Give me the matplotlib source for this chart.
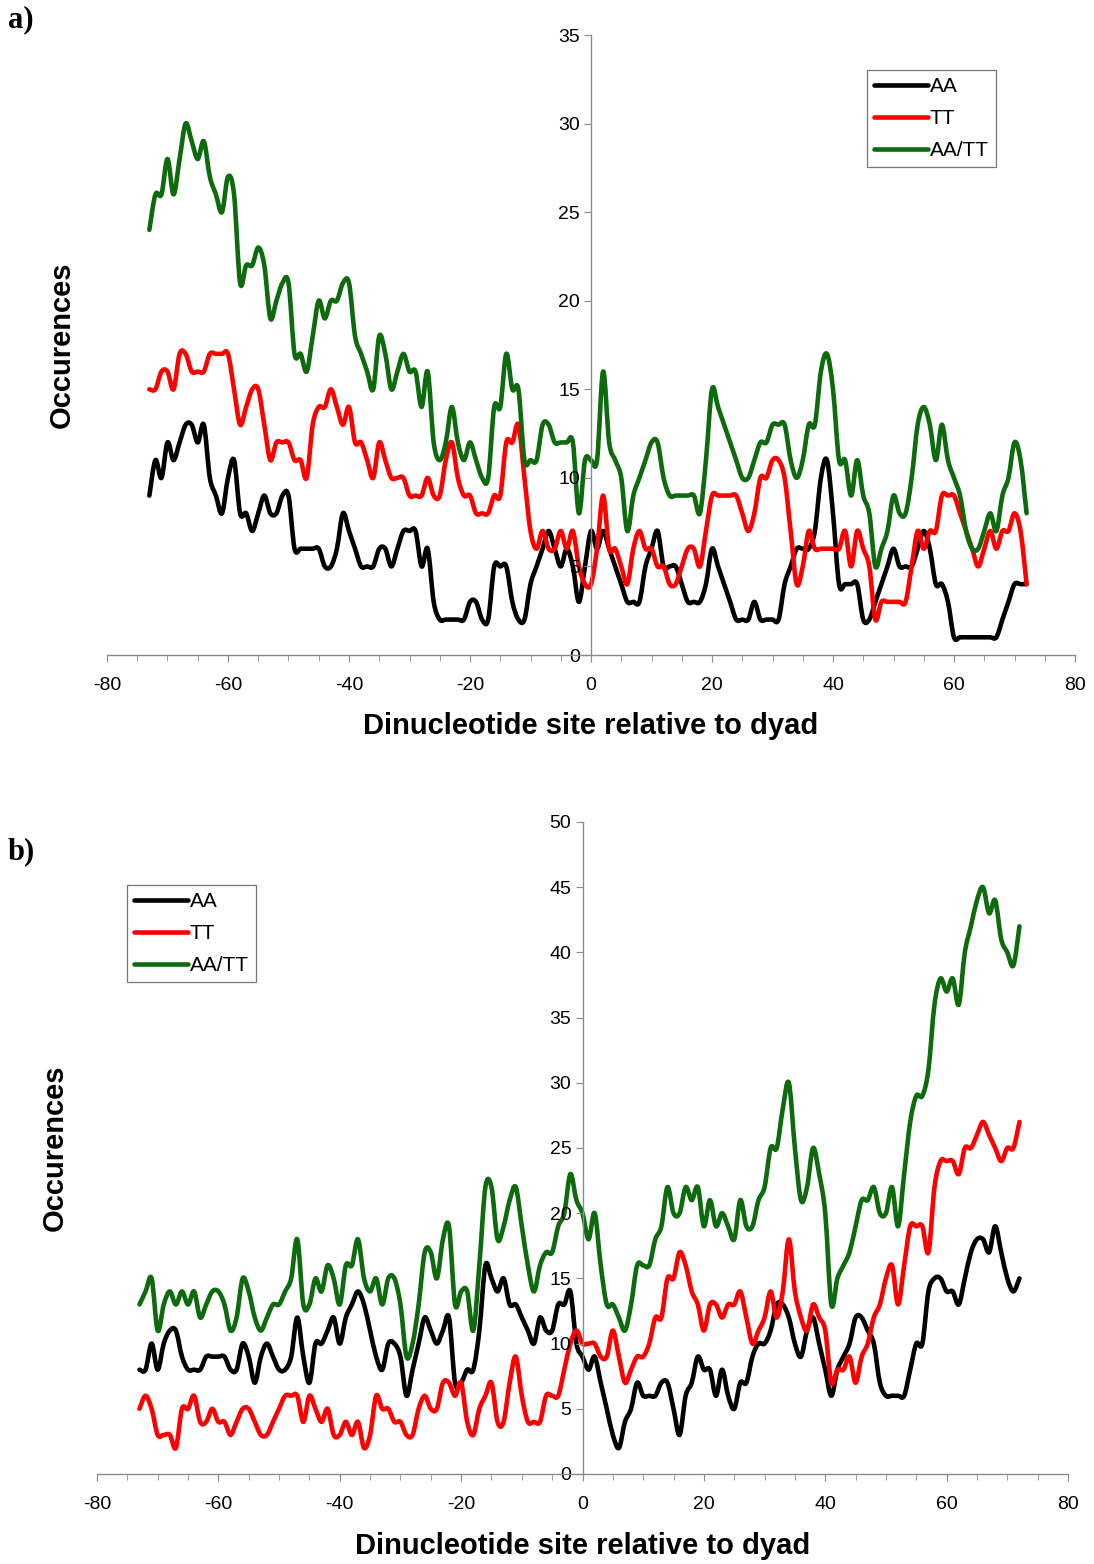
import numpy as np
import matplotlib.pyplot as plt
from matplotlib.path import Path
from matplotlib.patches import PathPatch
from matplotlib.lines import Line2D

plt.rcParams['font.family'] = ['Liberation Sans', 'DejaVu Sans']
plt.rcParams['axes.unicode_minus'] = False

x = list(range(-73, 73))

# panel a
aa_a = [9, 11, 10, 12, 11, 12, 13, 13, 12, 13, 10, 9, 8, 10, 11, 8, 8, 7, 8, 9, 8, 8, 9, 9, 6, 6, 6, 6, 6, 5, 5, 6, 8, 7, 6, 5, 5,
        5, 6, 6, 5, 6, 7, 7, 7, 5, 6, 3, 2, 2, 2, 2, 2, 3, 3, 2, 2, 5, 5, 5, 3, 2, 2, 4, 5, 6, 7, 6, 5, 6, 5, 3, 5, 7,
        6, 7, 6, 5, 4, 3, 3, 3, 5, 6, 7, 5, 5, 5, 4, 3, 3, 3, 4, 6, 5, 4, 3, 2, 2, 2, 3, 2, 2, 2, 2, 4, 5, 6, 6, 6, 7, 10, 11,
        8, 4, 4, 4, 4, 2, 2, 3, 4, 5, 6, 5, 5, 5, 6, 7, 6, 4, 4, 3, 1, 1, 1, 1, 1, 1, 1, 1, 2, 3, 4, 4, 4]
tt_a = [15, 15, 16, 16, 15, 17, 17, 16, 16, 16, 17, 17, 17, 17, 15, 13, 14, 15, 15, 13, 11, 12, 12, 12, 11, 11, 10, 13, 14, 14, 15, 14, 13, 14, 12, 12, 11,
        10, 12, 11, 10, 10, 10, 9, 9, 9, 10, 9, 9, 11, 12, 10, 9, 9, 8, 8, 8, 9, 9, 12, 12, 13, 10, 7, 6, 7, 6, 6, 7, 6, 7, 5, 4, 4,
        6, 9, 6, 6, 5, 4, 6, 7, 6, 6, 5, 5, 4, 4, 5, 6, 6, 5, 7, 9, 9, 9, 9, 9, 8, 7, 8, 10, 10, 11, 11, 10, 7, 4, 5, 7, 6, 6, 6,
        6, 6, 7, 5, 7, 6, 5, 2, 3, 3, 3, 3, 3, 5, 7, 6, 7, 7, 9, 9, 9, 8, 7, 6, 5, 6, 7, 6, 7, 7, 8, 7, 4]
aatt_a = [24, 26, 26, 28, 26, 28, 30, 29, 28, 29, 27, 26, 25, 27, 26, 21, 22, 22, 23, 22, 19, 20, 21, 21, 17, 17, 16, 18, 20, 19, 20, 20, 21, 21, 18, 17, 16,
          15, 18, 17, 15, 16, 17, 16, 16, 14, 16, 12, 11, 12, 14, 12, 11, 12, 11, 10, 10, 14, 14, 17, 15, 15, 11, 11, 11, 13, 13, 12, 12, 12, 12, 8, 11, 11,
          11, 16, 12, 11, 10, 7, 9, 10, 11, 12, 12, 10, 9, 9, 9, 9, 9, 8, 11, 15, 14, 13, 12, 11, 10, 10, 11, 12, 12, 13, 13, 13, 11, 10, 11, 13, 13, 16, 17,
          15, 11, 11, 9, 11, 9, 8, 5, 6, 7, 9, 8, 8, 10, 13, 14, 13, 11, 13, 11, 10, 9, 7, 6, 6, 7, 8, 7, 9, 10, 12, 11, 8]

# panel b
aa_b = [8, 8, 10, 8, 10, 11, 11, 9, 8, 8, 8, 9, 9, 9, 9, 8, 8, 10, 9, 7, 9, 10, 9, 8, 8, 9, 12, 9, 7, 10, 10, 11, 12, 10, 12, 13, 14,
        13, 11, 9, 8, 10, 10, 9, 6, 8, 10, 12, 11, 10, 11, 12, 7, 7, 8, 8, 11, 16, 15, 14, 15, 13, 13, 12, 11, 10, 12, 11, 11, 13, 13, 14, 10, 9,
        8, 9, 7, 5, 3, 2, 4, 5, 7, 6, 6, 6, 7, 7, 5, 3, 6, 7, 9, 8, 8, 6, 8, 6, 5, 7, 7, 9, 10, 10, 11, 13, 13, 12, 10, 9, 11, 12, 10,
        8, 6, 8, 9, 10, 12, 12, 11, 10, 7, 6, 6, 6, 6, 8, 10, 10, 14, 15, 15, 14, 14, 13, 15, 17, 18, 18, 17, 19, 17, 15, 14, 15]
tt_b = [5, 6, 5, 3, 3, 3, 2, 5, 5, 6, 4, 4, 5, 4, 4, 3, 4, 5, 5, 4, 3, 3, 4, 5, 6, 6, 6, 4, 6, 5, 4, 5, 3, 3, 4, 3, 4,
        2, 3, 6, 5, 5, 4, 4, 3, 3, 5, 6, 5, 5, 7, 7, 6, 7, 4, 3, 5, 6, 7, 4, 4, 7, 9, 6, 4, 4, 4, 6, 6, 6, 8, 10, 11, 10,
        10, 10, 9, 9, 11, 9, 7, 8, 9, 9, 10, 12, 12, 15, 15, 17, 16, 14, 13, 11, 13, 13, 12, 13, 13, 14, 12, 10, 11, 12, 14, 12, 14, 18, 14, 12, 11, 13, 12,
        11, 7, 8, 8, 9, 7, 9, 10, 12, 13, 15, 16, 13, 16, 19, 19, 19, 17, 22, 24, 24, 24, 23, 25, 25, 26, 27, 26, 25, 24, 25, 25, 27]
aatt_b = [13, 14, 15, 11, 13, 14, 13, 14, 13, 14, 12, 13, 14, 14, 13, 11, 12, 15, 14, 12, 11, 12, 13, 13, 14, 15, 18, 13, 13, 15, 14, 16, 15, 13, 16, 16, 18,
          15, 14, 15, 13, 15, 15, 13, 9, 10, 13, 17, 17, 15, 18, 19, 13, 14, 14, 11, 16, 22, 22, 18, 19, 21, 22, 19, 16, 14, 16, 17, 17, 19, 20, 23, 21, 20,
          18, 20, 16, 13, 13, 12, 11, 13, 16, 16, 16, 18, 19, 22, 20, 20, 22, 21, 22, 19, 21, 19, 20, 19, 18, 21, 19, 19, 21, 22, 25, 25, 28, 30, 25, 21, 22, 25, 23,
          20, 13, 15, 16, 17, 19, 21, 21, 22, 20, 20, 22, 19, 23, 27, 29, 29, 31, 36, 38, 37, 38, 36, 40, 42, 44, 45, 43, 44, 41, 40, 39, 42]

labels = ['AA', 'TT', 'AA/TT']
colors = ['black', '#ff0000', '#0d6b0d']

W, H = 1094, 1564
fig = plt.figure(figsize=(W / 100, H / 100), dpi=100)


def smooth_path(xs, ys):
    # smoothed line like the spreadsheet's, as cubic Bezier segments through the data points
    p = np.column_stack([xs, ys]).astype(float)
    ext = np.vstack([p[0], p, p[-1]])
    verts = [p[0]]
    codes = [Path.MOVETO]
    for i in range(len(p) - 1):
        c1 = ext[i + 1] + (ext[i + 2] - ext[i]) / 6
        c2 = ext[i + 2] - (ext[i + 3] - ext[i + 1]) / 6
        verts += [c1, c2, p[i + 1]]
        codes += [Path.CURVE4] * 3
    return Path(verts, codes)


def panel(rect, series, ymax, leg_xy, letter, letter_y, ylab_xy, xlab_y):
    ax = fig.add_axes(rect)
    for s, c in zip(series, colors):
        ax.add_patch(PathPatch(smooth_path(x, s), facecolor='none', edgecolor=c, lw=3.3,
                               joinstyle='round', capstyle='round'))
    ax.set_xlim(-80, 80)
    ax.set_ylim(0, ymax)
    ax.spines['left'].set_position(('data', 0))
    ax.spines['bottom'].set_position(('data', 0))
    ax.spines['top'].set_visible(False)
    ax.spines['right'].set_visible(False)
    for sp in ['left', 'bottom']:
        ax.spines[sp].set_color('#8a8a8a')
        ax.spines[sp].set_linewidth(1.0)
    ax.set_xticks(range(-80, 81, 20))
    ax.set_xticks(range(-80, 81, 5), minor=True)
    ax.set_yticks(range(0, ymax + 1, 5))
    ax.tick_params(axis='both', which='both', direction='out', colors='#8a8a8a',
                   labelcolor='black', labelsize=14)
    ax.tick_params(axis='x', which='major', length=5, pad=11)
    ax.tick_params(axis='x', which='minor', length=4)
    ax.tick_params(axis='y', length=5, pad=3)
    ax.patch.set_alpha(0)
    fig.text(0.5 * (rect[0] * 2 + rect[2]), 1 - xlab_y / H, 'Dinucleotide site relative to dyad',
             ha='center', va='center', fontsize=21, fontweight='bold')
    fig.text(ylab_xy[0] / W, 1 - ylab_xy[1] / H, 'Occurences', rotation=90, ha='center', va='center',
             fontsize=21, fontweight='bold')
    fig.text(8 / W, 1 - letter_y / H, letter, fontsize=22, fontweight='bold',
             family=['Liberation Serif', 'DejaVu Serif'], ha='left', va='center')
    handles = [Line2D([], [], color=c, lw=3.3, solid_capstyle='round') for c in colors]
    leg = ax.legend(handles, labels, loc='upper left', bbox_to_anchor=(leg_xy[0] / W, 1 - leg_xy[1] / H),
                    bbox_transform=fig.transFigure, frameon=True, fancybox=False, fontsize=15,
                    handlelength=2.6, handletextpad=0.05, borderpad=0.35, labelspacing=0.62,
                    borderaxespad=0)
    leg.get_frame().set_edgecolor('#555555')
    leg.get_frame().set_linewidth(0.9)
    return ax


panel([107 / W, 1 - 655 / H, (1075 - 107) / W, (655 - 35) / H], [aa_a, tt_a, aatt_a], 35,
      (867, 70), 'a)', 20, (62, 345), 726)
panel([97 / W, 1 - 1474 / H, (1068 - 97) / W, (1474 - 822) / H], [aa_b, tt_b, aatt_b], 50,
      (127, 885), 'b)', 852, (55, 1148), 1546)

fig.savefig('out.png', dpi=100)
